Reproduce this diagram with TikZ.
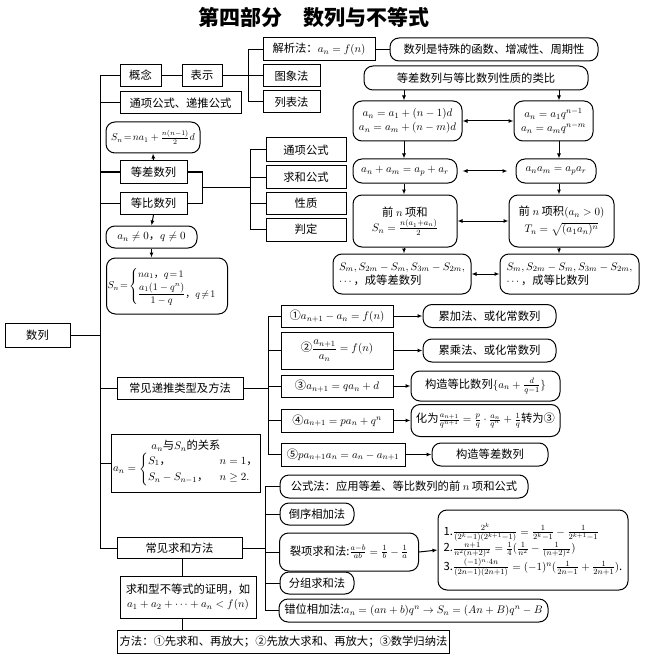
\documentclass[tikz,border=0pt]{standalone}
\usepackage{amsmath}
\usepackage{fontspec}
\setmainfont{Noto Sans CJK SC}
\usetikzlibrary{arrows.meta}
\begin{document}
\begin{tikzpicture}[x=1pt, y=-1pt,
    box/.style={draw, line width=1pt, inner sep=2pt, align=center, font=\fontsize{11.3}{14}\selectfont},
    rbox/.style={box, rounded corners=9pt},
    small/.style={font=\fontsize{10}{13}\selectfont},
    sz/.style 2 args={minimum width=#1pt, minimum height=#2pt},
    conn/.style={line width=1pt},
    arr/.style={conn, -{Latex[length=5pt,width=4pt]}},
    darr/.style={conn, {Latex[length=5pt,width=4pt]}-{Latex[length=5pt,width=4pt]}}]
    \useasboundingbox (0,0) rectangle (645,663);
    \node[font=\fontsize{21}{24}\selectfont\bfseries] (title) at (314,18) {第四部分\quad 数列与不等式};
    \node[box, sz={65}{24}] (shulie) at (37.5,335) {数列};
    \node[box, sz={41}{22}] (gainian) at (140.5,75.5) {概念};
    \node[box, sz={40}{22}] (biaoshi) at (202,75.5) {表示};
    \node[box, sz={112}{23}] (jiexi) at (319,49.5) {解析法：$a_n=f(n)$};
    \node[box, sz={57}{22}] (tuxiang) at (291.5,76) {图象法};
    \node[box, sz={57}{22}] (liebiao) at (291.5,102) {列表法};
    \node[rbox, sz={208}{23}] (hanshu) at (494,49.5) {数列是特殊的函数、增减性、周期性};
    \node[box, sz={121}{22}] (tongdi) at (180.5,103) {通项公式、递推公式};
    \node[rbox, sz={224}{24}] (leibi) at (476,78) {等差数列与等比数列性质的类比};
    \node[rbox, sz={109}{40}] (dc1) at (407.5,121) {$a_n=a_1+(n-1)d$\\$a_n=a_m+(n-m)d$};
    \node[rbox, sz={79}{40}] (db1) at (553.5,121) {$a_n=a_1q^{n-1}$\\$a_n=a_mq^{n-m}$};
    \node[rbox, sz={104}{24}] (dc2) at (405,171) {$a_n+a_m=a_p+a_r$};
    \node[rbox, sz={80}{24}] (db2) at (556,171) {$a_na_m=a_pa_r$};
    \node[rbox, sz={104}{52}] (dc3) at (405,221) {前 $n$ 项和\\[1pt]$S_n=\frac{n(a_1+a_n)}{2}$};
    \node[rbox, sz={105}{52}] (db3) at (561.5,221) {前 $n$ 项积$(a_n>0)$\\[3pt]$T_n=\sqrt{(a_1a_n)^n}$};
    \node[rbox, sz={138}{40}, align=left] (dc4) at (402,274) {$S_m,S_{2m}-S_m,S_{3m}-S_{2m},$\\$\cdots$，成等差数列};
    \node[rbox, sz={139}{40}, align=left] (db4) at (569.5,274) {$S_m,S_{2m}-S_m,S_{3m}-S_{2m},$\\$\cdots$，成等比数列};
    \coordinate (colL) at (404,0);
    \coordinate (colR) at (559,0);
    \draw[arr] (leibi.south -| colL) -- (dc1.north -| colL);
    \draw[arr] (leibi.south -| colR) -- (db1.north -| colR);
    \draw[arr] (dc1.south -| colL) -- (dc2.north -| colL);
    \draw[arr] (db1.south -| colR) -- (db2.north -| colR);
    \draw[arr] (dc2.south -| colL) -- (dc3.north -| colL);
    \draw[arr] (db2.south -| colR) -- (db3.north -| colR);
    \draw[arr] (dc3.south -| colL) -- (dc4.north -| colL);
    \draw[arr] (db3.south -| colR) -- (db4.north -| colR);
    \draw[darr] (dc1.east) -- (db1.west);
    \draw[darr, shorten <=5pt, shorten >=8pt] (dc2.east) -- (db2.west);
    \draw[darr] (dc3.east) -- (db3.west);
    \draw[darr] (dc4.east) -- (db4.west);
    \node[rbox, small, sz={94}{31}, inner sep=1pt] (snd) at (153,137.5) {$S_n\!=\!na_1+\frac{n(n-1)}{2}d$};
    \node[box, sz={67}{22}] (dengcha) at (153.5,172) {等差数列};
    \node[box, sz={67}{22}] (dengbi) at (153.5,203.5) {等比数列};
    \node[rbox, sz={91}{22}] (neq) at (151.5,237) {$a_n\neq0$，$q\neq0$};
    \node[rbox, small, sz={121}{56}, inner sep=1pt] (snb) at (167,286) {$S_n\!=\!\begin{cases}na_1\text{，}q\!=\!1\\[1pt] \dfrac{a_1(1-q^n)}{1-q}\text{，}q\!\neq\!1\end{cases}$};
    \draw[arr] (dengcha.north) -- (snd.south);
    \draw[arr] (dengbi.south) -- (neq.north);
    \draw[arr] (neq.south) -- (neq.south |- snb.north);
    \node[box, sz={80}{24}] (tx) at (306,150) {通项公式};
    \node[box, sz={80}{22}] (qh) at (306,177) {求和公式};
    \node[box, sz={80}{22}] (xz) at (306,203) {性质};
    \node[box, sz={80}{23}] (pd) at (306,229.5) {判定};
    \coordinate (bsJ) at (248,0);
    \draw[conn] (gainian.east) -- (biaoshi.west);
    \draw[conn] (biaoshi.east) -- (tuxiang.west |- biaoshi.east);
    \draw[conn] (jiexi.west) -- (jiexi.west -| bsJ) -- (liebiao.west -| bsJ) -- (liebiao.west);
    \draw[conn] (jiexi.east) -- (hanshu.west);
    \coordinate (cbJ) at (202,187.5);
    \coordinate (xzJ) at (250,0);
    \draw[conn] (dengcha.east) -- (dengcha.east -| cbJ) -- (dengbi.east -| cbJ) -- (dengbi.east);
    \draw[conn] (cbJ) -- (cbJ -| xzJ);
    \draw[conn] (tx.west) -- (tx.west -| xzJ) -- (pd.west -| xzJ) -- (pd.west);
    \foreach \n in {qh,xz} \draw[conn] (\n.west) -- (\n.west -| xzJ);
    \node[box, sz={126}{22}] (ditui) at (180,388) {常见递推类型及方法};
    \node[box, sz={112}{22}] (d1) at (337,316) {①$a_{n+1}-a_n=f(n)$};
    \node[box, sz={112}{37}] (d2) at (337,350.5) {②$\dfrac{a_{n+1}}{a_n}=f(n)$};
    \node[box, sz={112}{22}] (d3) at (337,386) {③$a_{n+1}=qa_n+d$};
    \node[box, sz={112}{23}] (d4) at (337,420.5) {④$a_{n+1}=pa_n+q^n$};
    \node[box, sz={124}{23}] (d5) at (343,454.5) {⑤$pa_{n+1}a_n=a_n-a_{n+1}$};
    \node[rbox, sz={133}{23}] (r1) at (489.5,316) {累加法、或化常数列};
    \node[rbox, sz={133}{23}] (r2) at (489.5,350.5) {累乘法、或化常数列};
    \node[rbox, sz={149}{30}] (r3) at (485.5,386) {构造等比数列$\{a_n+\frac{d}{q-1}\}$};
    \node[rbox, sz={149}{32}] (r4) at (485.5,420.5) {化为$\frac{a_{n+1}}{q^{n+1}}=\frac{p}{q}\cdot\frac{a_n}{q^n}+\frac{1}{q}$转为③};
    \node[rbox, sz={116}{23}] (r5) at (490,454.5) {构造等差数列};
    \foreach \i in {1,...,5} \draw[arr] (d\i.east) -- (r\i.west);
    \coordinate (dtJ) at (268,0);
    \draw[conn] (ditui.east) -- (ditui.east -| dtJ);
    \draw[conn] (d1.west) -- (d1.west -| dtJ) -- (d5.west -| dtJ) -- (d5.west);
    \foreach \n in {d2,d3,d4} \draw[conn] (\n.west) -- (\n.west -| dtJ);
    \node[box, sz={138}{58}] (relation) at (186,463) {$a_n$与$S_n$的关系\\$a_n=\begin{cases}S_1\text{，} & n=1\text{，}\\ S_n-S_{n-1}\text{，} & n\geq2.\end{cases}$};
    \node[box, sz={125}{21}] (qiuhe) at (179.5,548) {常见求和方法};
    \node[rbox, sz={248}{23}] (s1) at (404,486.5) {公式法：应用等差、等比数列的前 $n$ 项和公式};
    \node[rbox, sz={74}{22}] (s2) at (317,514) {倒序相加法};
    \node[rbox, sz={139}{38}] (s3) at (349,552) {裂项求和法:$\frac{a-b}{ab}=\frac{1}{b}-\frac{1}{a}$};
    \node[rbox, sz={74}{22}] (s4) at (317,583) {分组求和法};
    \node[rbox, sz={269}{23}] (s5) at (413.5,610.5) {错位相加法:$a_n=(an+b)q^n\to S_n=(An+B)q^n-B$};
    \node[rbox, sz={190}{80}, align=left, inner sep=3pt] (lie) at (533,550) {1.$\frac{2^k}{(2^k-1)(2^{k+1}-1)}=\frac{1}{2^k-1}-\frac{1}{2^{k+1}-1}$\\2.$\frac{n+1}{n^2(n+2)^2}=\frac{1}{4}(\frac{1}{n^2}-\frac{1}{(n+2)^2})$\\3.$\frac{(-1)^n\cdot4n}{(2n-1)(2n+1)}=(-1)^n(\frac{1}{2n-1}+\frac{1}{2n+1})$.};
    \draw[arr] (s3.east) -- (lie.west);
    \coordinate (qhJ) at (265,0);
    \draw[conn] (qiuhe.east) -- (qiuhe.east -| qhJ);
    \draw[conn] (s1.west) -- (s1.west -| qhJ) -- (s5.west -| qhJ) -- (s5.west);
    \foreach \n in {s2,s3,s4} \draw[conn] (\n.west) -- (\n.west -| qhJ);
    \node[box, sz={136}{42}] (bdeng) at (188,597) {求和型不等式的证明，如\\$a_1+a_2+\cdots+a_n<f(n)$};
    \node[box, sz={331}{23}] (fangfa) at (283.5,641.5) {方法：①先求和、再放大；②先放大求和、再放大；③数学归纳法};
    \draw[conn] (qiuhe.south -| 182,0) -- (bdeng.north -| 182,0);
    \draw[conn] (bdeng.south -| 182,0) -- (fangfa.north -| 182,0);
    \coordinate (trunk) at (100,0);
    \draw[conn] (gainian.west) -- (gainian.west -| trunk) -- (qiuhe.west -| trunk) -- (qiuhe.west);
    \foreach \n in {tongdi,dengcha,dengbi,ditui,relation} \draw[conn] (\n.west) -- (\n.west -| trunk);
    \draw[conn] (shulie.east) -- (shulie.east -| trunk);
\end{tikzpicture}
\end{document}
